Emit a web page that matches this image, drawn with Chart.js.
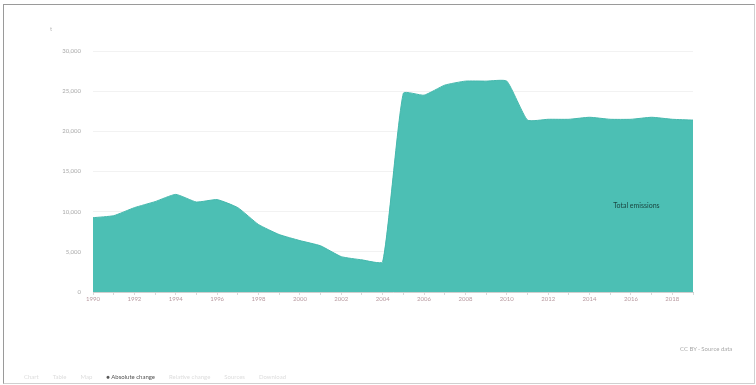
<!DOCTYPE html>
<html>
<head>
<meta charset="utf-8">
<script src="https://cdn.jsdelivr.net/npm/chart.js@4"></script>
<style>
  html, body { margin: 0; padding: 0; background: #fff; }
  #frame {
    position: relative;
    border-left: 1px solid #9a9a9a; border-top: 1px solid #9a9a9a;
    border-right: 1px solid #d0d0d0; border-bottom: 1px solid #d0d0d0;
    margin: 4px 0 0 3px; width: 750px; height: 378px; overflow: hidden;
  }
  #chart { position: absolute; left: -3px; top: -4px; }
  .unit { position: absolute; left: 46px; top: 20px; font: 6px Lato, sans-serif; color: #bbb; }
  #legend { position: absolute; left: 20px; top: 368px; font: 6px Lato, sans-serif; color: #ddd; white-space: nowrap; }
  #legend span { margin-right: 14px; }
  #legend .on { color: #555; }
  #source { position: absolute; left: 676px; top: 340px; font: 6px Lato, sans-serif; color: #aaa; }
</style>
</head>
<body>
<div id="frame">
  <canvas id="chart" width="756" height="385"></canvas>
  <div class="unit">t</div>
  <div id="legend"><span>Chart</span><span>Table</span><span>Map</span><span class="on">&#9679; Absolute change</span><span>Relative change</span><span>Sources</span><span>Download</span></div>
  <div id="source">CC BY · Source data</div>
</div>
<script>
// DATA
const years = ['1990','1991','1992','1993','1994','1995','1996','1997','1998','1999',
  '2000','2001','2002','2003','2004','2005','2006','2007','2008','2009',
  '2010','2011','2012','2013','2014','2015','2016','2017','2018','2019'];
const values = [9250, 9500, 10500, 11250, 12150, 11200, 11500, 10500, 8400, 7150,
  6400, 5750, 4400, 4000, 3750, 24750, 24500, 25750, 26250, 26250,
  26250, 21400, 21500, 21500, 21750, 21500, 21500, 21750, 21500, 21400];
const yTicks = [0, 5000, 10000, 15000, 20000, 25000, 30000];
const seriesName = 'Total emissions';

const ctx = document.getElementById('chart').getContext('2d');

// label drawn inside the area
const areaLabel = {
  id: 'areaLabel',
  afterDatasetsDraw(chart) {
    const x = chart.scales.x.getPixelForValue(25);
    const y = chart.scales.y.getPixelForValue(10750);
    const c = chart.ctx;
    c.save();
    c.font = '7px Lato, sans-serif';
    c.fillStyle = '#1a4540';
    c.textAlign = 'left';
    c.textBaseline = 'middle';
    c.fillText(seriesName, x + 3, y);
    c.restore();
  }
};

new Chart(ctx, {
  type: 'line',
  data: {
    labels: years,
    datasets: [{
      label: seriesName,
      data: values,
      fill: 'origin',
      backgroundColor: '#4cbfb4',
      borderColor: '#46b8ad',
      borderWidth: 1,
      pointRadius: 0,
      tension: 0.15
    }]
  },
  options: {
    responsive: false,
    animation: false,
    layout: { padding: { left: 52, right: 64, top: 50, bottom: 74 } },
    plugins: { legend: { display: false }, tooltip: { enabled: false } },
    scales: {
      x: {
        offset: false,
        grid: { display: true, drawOnChartArea: false, tickLength: 3, color: '#d8d8d8' },
        border: { color: '#cfcfcf' },
        ticks: {
          autoSkip: false, maxRotation: 0, padding: 0,
          font: { size: 6, family: 'Lato' }, color: '#b89aa0',
          callback(v, i) { return i % 2 === 0 ? years[i] : ''; }
        },
        afterFit(s) { s.height = 20; }
      },
      y: {
        min: 0, max: 30000,
        afterBuildTicks(s) { s.ticks = yTicks.map(v => ({ value: v })); },
        grid: { color: '#f2f2f2', drawTicks: false },
        border: { display: false },
        ticks: {
          padding: 12,
          font: { size: 6, family: 'Lato' }, color: '#aaaaaa',
          callback(v) { return v.toLocaleString('en-US'); }
        },
        afterFit(s) { s.width = 40; }
      }
    }
  },
  plugins: [areaLabel]
});
</script>
</body>
</html>
